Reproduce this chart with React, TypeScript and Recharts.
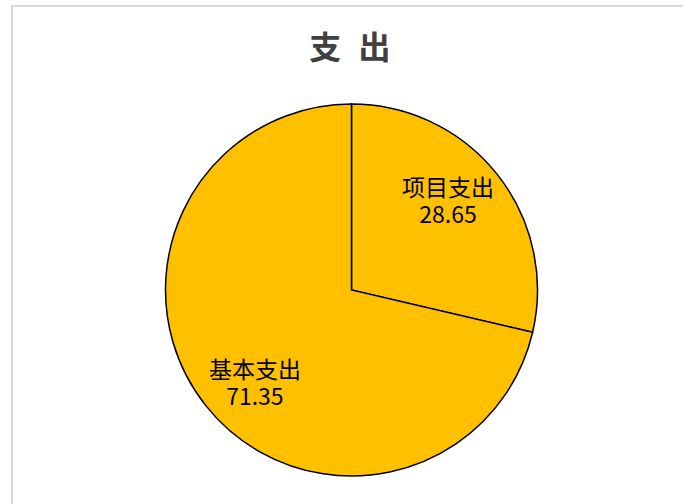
import { PieChart, Pie, Cell } from "recharts";

const names = ["项目支出", "基本支出"];
const amounts = [28.65, 71.35];
const title = "支 出";

const data = names.map((name, i) => ({ name, value: amounts[i] }));

const RADIAN = Math.PI / 180;

const renderLabel = (props: any) => {
	const { cx, cy, midAngle, outerRadius, name, value } = props;
	// labels sit a bit anticlockwise of the slice middle, like the original
	const a = (midAngle + 5) * RADIAN;
	const r = outerRadius * 0.715;
	const x = cx + r * Math.cos(-a);
	const y = cy + r * Math.sin(-a);
	return (
		<text
			x={x}
			y={y}
			fill="#000"
			textAnchor="middle"
			fontSize={23}
			fontFamily="'Noto Sans CJK SC', sans-serif"
		>
			<tspan x={x} y={y - 3}>
				{name}
			</tspan>
			<tspan x={x} y={y + 24}>
				{value}
			</tspan>
		</text>
	);
};

const App = () => {
	return (
		<div style={{ position: "absolute", left: 0, top: 0, width: 683, height: 504, background: "#fff", overflow: "hidden" }}>
			<div
				style={{
					position: "absolute",
					left: 11,
					top: 5,
					width: 700,
					height: 520,
					borderTop: "2px solid #d9d9d9",
					borderLeft: "2px solid #d9d9d9",
				}}
			/>
			<div
				style={{
					position: "absolute",
					left: 0,
					top: 22,
					width: 705,
					textAlign: "center",
					fontFamily: "'Noto Sans CJK SC', sans-serif",
					fontWeight: 700,
					fontSize: 32,
					color: "#404040",
					letterSpacing: 5,
					whiteSpace: "pre",
				}}
			>
				{title}
			</div>
			<div style={{ position: "absolute", left: 0, top: 0 }}>
				<PieChart width={683} height={504} margin={{ top: 0, right: 0, bottom: 0, left: 0 }}>
					<Pie
						data={data}
						dataKey="value"
						nameKey="name"
						cx={351.5}
						cy={290}
						outerRadius={186}
						startAngle={90}
						endAngle={-270}
						stroke="#000"
						strokeWidth={1.5}
						label={renderLabel}
						labelLine={false}
						isAnimationActive={false}
					>
						{data.map((d) => (
							<Cell key={d.name} fill="#FFC000" />
						))}
					</Pie>
				</PieChart>
			</div>
		</div>
	);
};

export default App;
